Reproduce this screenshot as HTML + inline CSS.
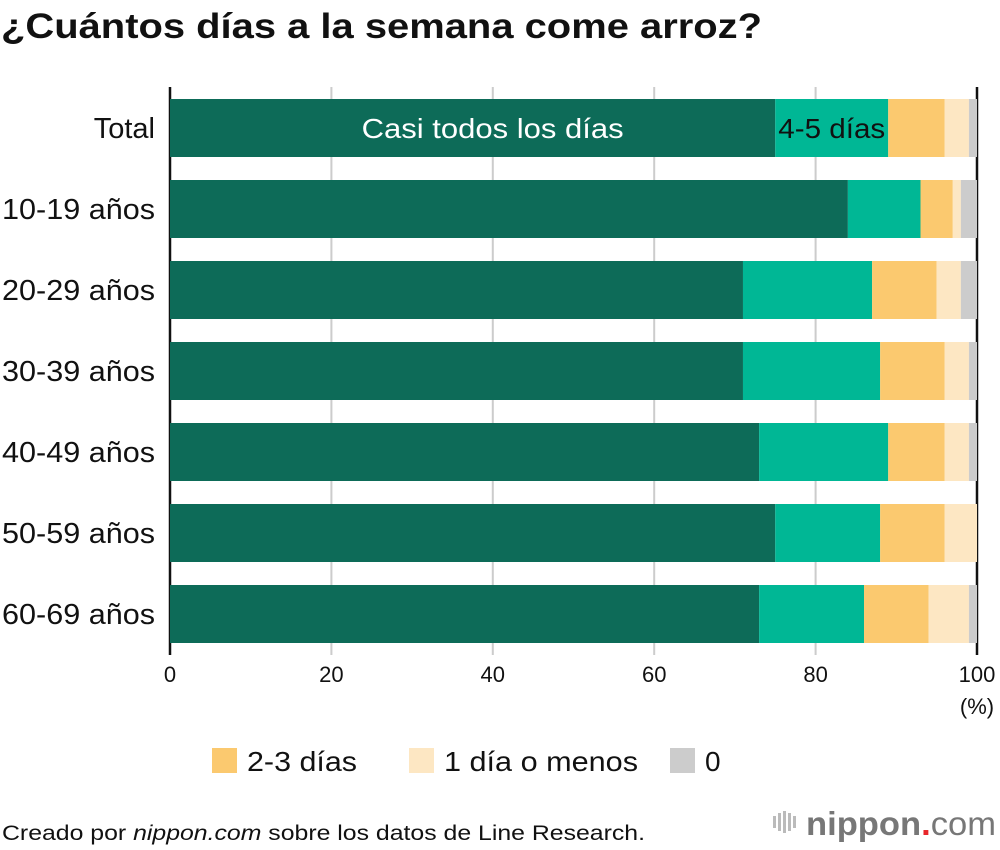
<!DOCTYPE html>
<html><head><meta charset="utf-8"><style>
body{margin:0;background:#fff;font-family:"Liberation Sans",Arial,sans-serif;}
#wrap{position:relative;width:1000px;height:850px;overflow:hidden;}
</style></head><body>
<div id="wrap">
<svg id="chart" width="1000" height="850" xmlns="http://www.w3.org/2000/svg">
<text x="1" y="38" font-size="35" font-weight="bold" fill="#111" textLength="761" lengthAdjust="spacingAndGlyphs">¿Cuántos días a la semana come arroz?</text>
<g id="grid"></g><g id="bars"></g><g id="labels"></g>
<text x="977" y="714" font-size="22" text-anchor="middle" fill="#111">(%)</text>
<g>
<rect x="212" y="748" width="25" height="25" fill="#fbc96f"/>
<text x="247" y="771" font-size="28" fill="#111" textLength="110" lengthAdjust="spacingAndGlyphs">2-3 días</text>
<rect x="409" y="748" width="25" height="25" fill="#fde7c3"/>
<text x="444" y="771" font-size="28" fill="#111" textLength="194" lengthAdjust="spacingAndGlyphs">1 día o menos</text>
<rect x="670" y="748" width="25" height="25" fill="#cccccc"/>
<text x="705" y="771" font-size="28" fill="#111">0</text>
</g>
<text x="2" y="840" font-size="21" fill="#111" textLength="643" lengthAdjust="spacingAndGlyphs">Creado por <tspan font-style="italic">nippon.com</tspan> sobre los datos de Line Research.</text>
<g>
<g fill="#bbb"><rect x="773" y="816" width="3" height="12"/><rect x="778" y="813" width="3" height="18"/><rect x="783" y="811" width="3" height="22"/><rect x="788" y="813" width="3" height="18"/><rect x="793" y="816" width="3" height="12"/></g>
<text x="806" y="835" font-size="33" font-weight="bold" fill="#777" textLength="190" lengthAdjust="spacingAndGlyphs">nippon<tspan fill="#e8262b">.</tspan><tspan font-weight="normal">com</tspan></text>
</g>
</svg>
</div>
<script>
const categories=["Total","10-19 años","20-29 años","30-39 años","40-49 años","50-59 años","60-69 años"];
const casiTodos=[75,84,71,71,73,75,73];
const dias45=[14,9,16,17,16,13,13];
const dias23=[7,4,8,8,7,8,8];
const unDia=[3,1,3,3,3,4,5];
const cero=[1,2,2,1,1,0,1];
const ticks=[0,20,40,60,80,100];
const seriesNames=["casi-todos","4-5-dias","2-3-dias","1-dia","0"];
const colors=["#0d6b58","#00b795","#fbc96f","#fde7c3","#cccccc"];
const NS="http://www.w3.org/2000/svg";
const x0=170,x1=977,top0=99,pitch=81,bh=58;
const xs=v=>x0+(x1-x0)*v/100;
const ys=i=>top0+i*pitch;
function mk(tag,attrs,parent){const e=document.createElementNS(NS,tag);for(const k in attrs)e.setAttribute(k,attrs[k]);parent.appendChild(e);return e;}
const grid=document.getElementById('grid'),bars=document.getElementById('bars'),labels=document.getElementById('labels');
ticks.forEach(t=>{
  const l=mk('line',{x1:xs(t),x2:xs(t),y1:87,y2:655,stroke:(t===0||t===100)?'#111':'#ccc','stroke-width':(t===0||t===100)?2.5:2},grid);
  
  
  const tx=mk('text',{x:xs(t),y:682,'font-size':22,'text-anchor':'middle',fill:'#111'},grid);
  tx.textContent=t;
  
  
});
const series=[casiTodos,dias45,dias23,unDia,cero];
categories.forEach((c,i)=>{
  let acc=0;
  series.forEach((s,j)=>{
    const v=s[i];
    const r=mk('rect',{x:xs(acc),y:ys(i),width:Math.max(0,xs(acc+v)-xs(acc)),height:bh,fill:colors[j]},bars);
    
    
    acc+=v;
  });
  const t=mk('text',{x:155,y:ys(i)+bh/2+10,'font-size':29,'text-anchor':'end',fill:'#111'},labels);
  t.textContent=c;
  if(i>0){t.setAttribute('textLength',153);t.setAttribute('lengthAdjust','spacingAndGlyphs');}
  
  
});
const a=mk('text',{x:(xs(0)+xs(casiTodos[0]))/2+20,y:ys(0)+bh/2+10,'font-size':28,'text-anchor':'middle',fill:'#fff',textLength:262,lengthAdjust:'spacingAndGlyphs'},labels);
a.textContent='Casi todos los días';


const b=mk('text',{x:(xs(casiTodos[0])+xs(casiTodos[0]+dias45[0]))/2,y:ys(0)+bh/2+10,'font-size':28,'text-anchor':'middle',fill:'#111',textLength:107,lengthAdjust:'spacingAndGlyphs'},labels);
b.textContent='4-5 días';


</script>
</body></html>
